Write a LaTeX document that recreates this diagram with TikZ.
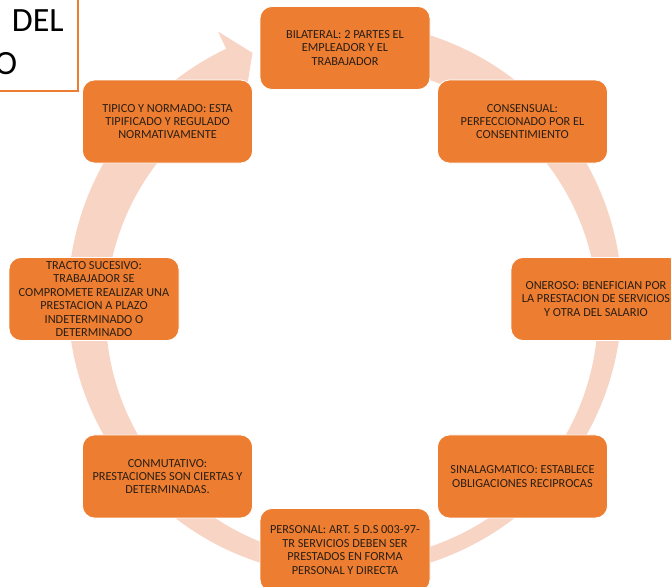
\documentclass[tikz,border=0pt]{standalone}
\usepackage{fontspec}
\setmainfont{Carlito}
\definecolor{boxorange}{HTML}{ED7D31}
\definecolor{ringpink}{RGB}{248,212,196}
\definecolor{boxtext}{HTML}{2A1E14}
\begin{document}
\begin{tikzpicture}[x=1pt,y=1pt,
  cyclebox/.style={draw=white, line width=0.8pt, fill=boxorange, rounded corners=12pt,
    minimum width=170pt, minimum height=83pt, align=center, text=boxtext,
    font=\fontsize{12.3}{13.4}\selectfont, inner sep=2pt},
  titletext/.style={inner sep=0pt, text=black, font=\fontsize{34}{40}\selectfont}]
\useasboundingbox (0,0) rectangle (671,586);
% background circular arrow
\begin{scope}[shift={(345,287)}]
  \fill[ringpink] (78:277) arc[start angle=78, end angle=-244.6, radius=277]
    -- (-244.6:296) -- (-249.4:263) -- (-244.6:230)
    arc[start angle=-244.6, end angle=78, radius=246] -- cycle;
  \node[cyclebox] (bilateral) at (90:251) {BILATERAL: 2 PARTES EL\\EMPLEADOR Y EL\\TRABAJADOR};
  \node[cyclebox] (consensual) at (45:251) {CONSENSUAL:\\PERFECCIONADO POR EL\\CONSENTIMIENTO};
  \node[cyclebox] (oneroso) at (0:251) {ONEROSO: BENEFICIAN POR\\LA PRESTACION DE SERVICIOS\\Y OTRA DEL SALARIO};
  \node[cyclebox] (sinalagmatico) at (-45:251) {SINALAGMATICO: ESTABLECE\\OBLIGACIONES RECIPROCAS};
  \node[cyclebox] (personal) at (-90:251) {PERSONAL: ART. 5 D.S 003-97-\\TR SERVICIOS DEBEN SER\\PRESTADOS EN FORMA\\PERSONAL Y DIRECTA};
  \node[cyclebox] (conmutativo) at (-135:251) {CONMUTATIVO:\\PRESTACIONES SON CIERTAS Y\\DETERMINADAS.};
  \node[cyclebox] (tracto) at (180:251) {TRACTO SUCESIVO:\\TRABAJADOR SE\\COMPROMETE REALIZAR UNA\\PRESTACION A PLAZO\\INDETERMINADO O\\DETERMINADO};
  \node[cyclebox] (tipico) at (135:251) {TIPICO Y NORMADO: ESTA\\TIPIFICADO Y REGULADO\\NORMATIVAMENTE};
\end{scope}
% title box
\node[draw=boxorange, line width=2.2pt, fill=white, outer sep=0pt, inner sep=0pt,
  minimum width=95pt, minimum height=110pt, anchor=south east] (titlebox) at (78,495) {};
\node[titletext, anchor=base east] (titledel) at (64,554) {DEL};
\node[titletext, anchor=base west] (titleo) at (-5.5,511.5) {O};
\end{tikzpicture}
\end{document}
